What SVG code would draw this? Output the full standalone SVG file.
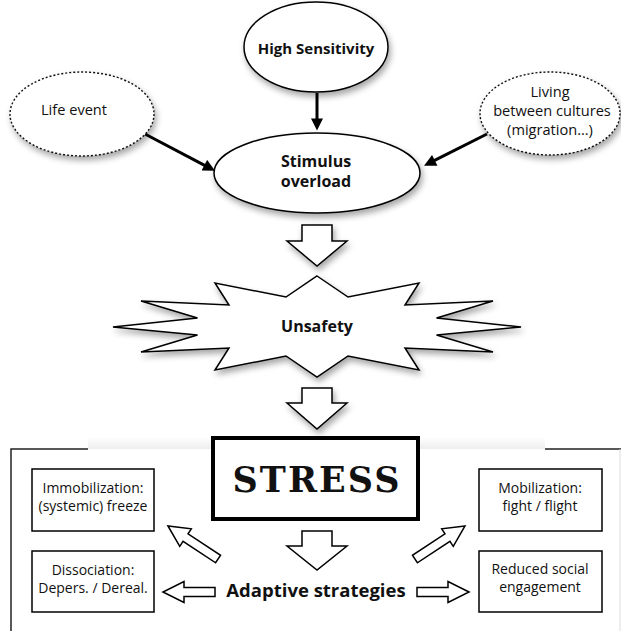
<svg xmlns="http://www.w3.org/2000/svg" xmlns:xlink="http://www.w3.org/1999/xlink" width="621" height="631" viewBox="0 0 621 631">
<style>
.node{fill:#fff;stroke:#000;stroke-width:1.5}
.dash{fill:#fff;stroke:#111;stroke-width:1.4;stroke-dasharray:2 2}
.hollow{fill:#fff;stroke:#000;stroke-width:1.5;stroke-linejoin:miter}
.box{fill:#fff;stroke:#000;stroke-width:1.5}
.conn{stroke:#000;stroke-width:3;fill:none}
.b{font-family:"Open Sans","Noto Sans","Liberation Sans",sans-serif;font-weight:bold;fill:#111;text-anchor:middle}
.r{font-family:"Open Sans","Noto Sans","Liberation Sans",sans-serif;font-size:14px;fill:#111;text-anchor:middle}
.re{font-size:14.6px}
.frame{stroke:#222;stroke-width:1.5;fill:none}
.stress{font-family:"DejaVu Serif","Liberation Serif",serif;font-weight:bold;font-size:35px;letter-spacing:2px;text-anchor:middle;fill:#111}
</style>
<defs>
<filter id="sh" x="-20%" y="-20%" width="140%" height="150%">
<feDropShadow dx="2" dy="4" stdDeviation="3" flood-color="#000" flood-opacity="0.35"/>
</filter>
<marker id="ah" viewBox="0 0 10 10" refX="2" refY="5" markerWidth="5" markerHeight="4" orient="auto">
<path d="M0,0 L10,5 L0,10 Z" fill="#000"/>
</marker>
<linearGradient id="band" x1="0" y1="0" x2="0" y2="1">
<stop offset="0" stop-color="#000" stop-opacity="0"/>
<stop offset="1" stop-color="#000" stop-opacity="0.07"/>
</linearGradient>
<path id="sh52" d="M0,0 L-21,-10.5 L-21,-4.5 L-52,-4.5 L-52,4.5 L-21,4.5 L-21,10.5 Z"/>
<path id="sh60" d="M0,0 L-21,-10.5 L-21,-4.5 L-60,-4.5 L-60,4.5 L-21,4.5 L-21,10.5 Z"/>
</defs>

<!-- frame -->
<g id="frame">
<rect x="88" y="437" width="457" height="12" fill="url(#band)"/>
<path class="frame" d="M11,631 V449 H88 M545,449 H621"/>
<path d="M620,449 V631" stroke="#ddd" stroke-width="1"/>
</g>

<g id="connectors">
<line class="conn" x1="317" y1="93" x2="317" y2="121" marker-end="url(#ah)"/>
<line class="conn" x1="145" y1="134" x2="206.5" y2="166.3" marker-end="url(#ah)"/>
<line class="conn" x1="487" y1="134" x2="432.6" y2="161.4" marker-end="url(#ah)"/>
<path class="hollow" filter="url(#sh)" d="M302,225 H332 V241 H347 L317,266 L287,241 H302 Z"/>
<path class="hollow" filter="url(#sh)" d="M302,388 H332 V403 H347 L317,429 L287,403 H302 Z"/>
<path class="hollow" d="M302,531 H332 V546 H347 L317,570 L287,546 H302 Z"/>
<use xlink:href="#sh60" class="hollow" transform="translate(168,526) rotate(213.4)"/>
<use xlink:href="#sh60" class="hollow" transform="translate(465,526) rotate(-33.4)"/>
<use xlink:href="#sh52" class="hollow" transform="translate(163,592) rotate(180)"/>
<use xlink:href="#sh52" class="hollow" transform="translate(469,592)"/>
</g>

<g id="high-sensitivity">
<ellipse class="node" filter="url(#sh)" cx="316" cy="47" rx="72" ry="45"/>
<text class="b" x="316" y="54" font-size="15">High Sensitivity</text>
</g>

<g id="life-event">
<ellipse class="dash" filter="url(#sh)" cx="82" cy="114" rx="72" ry="42"/>
<text class="r re" x="74" y="115">Life event</text>
</g>

<g id="living-between-cultures">
<ellipse class="dash" filter="url(#sh)" cx="550" cy="113.5" rx="70" ry="41.5"/>
<text class="r re" x="550" y="97">Living</text>
<text class="r re" x="552" y="116">between cultures</text>
<text class="r re" x="550" y="135">(migration…)</text>
</g>

<g id="stimulus-overload">
<ellipse class="node" filter="url(#sh)" cx="317" cy="173" rx="103" ry="40"/>
<text class="b" x="316" y="167" font-size="16">Stimulus</text>
<text class="b" x="316" y="187" font-size="16">overload</text>
</g>

<g id="unsafety">
<polygon class="node" filter="url(#sh)" points="317,276 348,297 419,283 405,305 493,301 436.5,318 521,327 436.5,335 493,352 405,348 419,370 348,356 317,377 286,356 215,370 229,348 141,352 197.5,335 113,327 197.5,318 141,301 229,305 215,283 286,297"/>
<text class="b" x="317" y="332" font-size="16">Unsafety</text>
</g>

<g id="stress">
<rect x="213" y="438" width="205" height="81" fill="#fff" stroke="#000" stroke-width="4"/>
<text class="stress" x="317" y="492">STRESS</text>
</g>

<g id="immobilization">
<rect class="box" x="32" y="469" width="122" height="62"/>
<text class="r" x="93" y="493">Immobilization:</text>
<text class="r" x="93" y="511">(systemic) freeze</text>
</g>

<g id="dissociation">
<rect class="box" x="32" y="551" width="122" height="61"/>
<text class="r" x="93" y="575">Dissociation:</text>
<text class="r" x="93" y="593">Depers. / Dereal.</text>
</g>

<g id="mobilization">
<rect class="box" x="479" y="469" width="123" height="62"/>
<text class="r" x="540" y="493">Mobilization:</text>
<text class="r" x="540" y="511">fight / flight</text>
</g>

<g id="reduced-social">
<rect class="box" x="479" y="551" width="123" height="61"/>
<text class="r" x="540" y="574">Reduced social</text>
<text class="r" x="540" y="592">engagement</text>
</g>

<g id="adaptive-strategies">
<text class="b" x="316" y="597" font-size="18.5">Adaptive strategies</text>
</g>
</svg>
